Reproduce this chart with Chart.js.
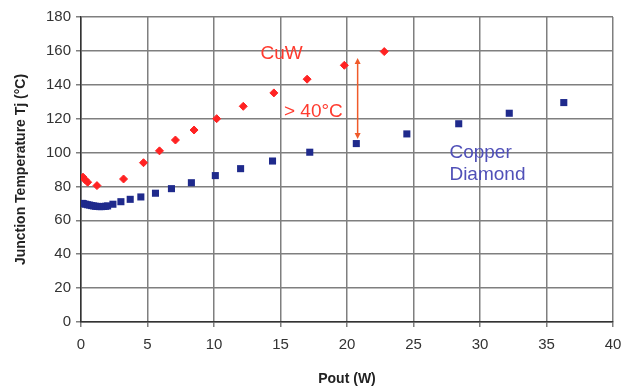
<!DOCTYPE html>
<html lang="en">
<head>
  <meta charset="UTF-8">
  <title>Junction Temperature vs Pout</title>
  <script src="https://cdn.jsdelivr.net/npm/chart.js"></script>
  <style>
    body { margin: 0; background: #fff; }
  </style>
</head>
<body>
  <canvas id="tjChart" width="628" height="390"></canvas>

  <script>
    // CuW (red diamonds): Pout (W) / Tj (°C)
    const cuwPout = [0.15, 0.3, 0.5, 1.2, 3.2, 4.7, 5.9, 7.1, 8.5, 10.2, 12.2, 14.5, 17.0, 19.8, 22.8];
    const cuwTj = [85.5, 84, 82.5, 80.5, 84.4, 94, 101, 107.4, 113.3, 120, 127.3, 135.2, 143.3, 151.5, 159.6];

    // Copper Diamond (blue squares)
    const cdPout = [0.1, 0.2, 0.35, 0.5, 0.65, 0.8, 0.95, 1.1, 1.25, 1.4, 1.55, 1.7, 1.85, 2.0, 2.4, 3.0, 3.7, 4.5, 5.6, 6.8, 8.3, 10.1, 12.0, 14.4, 17.2, 20.7, 24.5, 28.4, 32.2, 36.3];
    const cdTj = [70, 69.8, 69.5, 69.2, 69, 68.7, 68.5, 68.3, 68.2, 68.1, 68.1, 68.2, 68.3, 68.5, 69.5, 71, 72.4, 73.8, 76, 78.7, 82.2, 86.4, 90.5, 95, 100.2, 105.3, 111, 117, 123.2, 129.5];

    const xTicks = [0, 5, 10, 15, 20, 25, 30, 35, 40];
    const yTicks = [0, 20, 40, 60, 80, 100, 120, 140, 160, 180];

    const toPoints = (xs, ys) => xs.map((x, i) => ({ x: x, y: ys[i] }));

    // text labels and the "> 40°C" arrow, placed in data units
    const notes = {
      id: 'notes',
      afterDatasetsDraw(chart) {
        const ctx = chart.ctx;
        const xs = chart.scales.x, ys = chart.scales.y;
        const px = v => xs.getPixelForValue(v);
        const py = v => ys.getPixelForValue(v);
        ctx.save();
        ctx.textBaseline = 'alphabetic';
        ctx.textAlign = 'left';
        ctx.font = '19px "Liberation Sans", Arial, sans-serif';
        ctx.fillStyle = '#ff3b2f';
        ctx.fillText('CuW', px(13.5), py(155.3));
        ctx.fillText('> 40°C', px(15.26), py(121));
        ctx.fillStyle = '#5050b8';
        ctx.fillText('Copper', px(27.7), py(96.8));
        ctx.fillText('Diamond', px(27.7), py(83.8));

        // double-headed arrow
        const ax = px(20.8), top = py(155.8), bot = py(108);
        ctx.strokeStyle = '#f05a2a';
        ctx.fillStyle = '#f05a2a';
        ctx.lineWidth = 1.5;
        ctx.beginPath();
        ctx.moveTo(ax, top + 4);
        ctx.lineTo(ax, bot - 4);
        ctx.stroke();
        ctx.beginPath();
        ctx.moveTo(ax, top);
        ctx.lineTo(ax - 3, top + 6);
        ctx.lineTo(ax + 3, top + 6);
        ctx.closePath();
        ctx.fill();
        ctx.beginPath();
        ctx.moveTo(ax, bot);
        ctx.lineTo(ax - 3, bot - 6);
        ctx.lineTo(ax + 3, bot - 6);
        ctx.closePath();
        ctx.fill();
        ctx.restore();
      }
    };

    const ctx = document.getElementById('tjChart').getContext('2d');
    new Chart(ctx, {
      type: 'scatter',
      data: {
        datasets: [
          {
            label: 'CuW',
            data: toPoints(cuwPout, cuwTj),
            pointStyle: 'rectRot',
            pointRadius: 4,
            backgroundColor: '#ff2222',
            borderColor: '#ff2222',
            borderWidth: 1
          },
          {
            label: 'Copper Diamond',
            data: toPoints(cdPout, cdTj),
            pointStyle: 'rect',
            pointRadius: 5,
            backgroundColor: '#1f2a8c',
            borderColor: '#1f2a8c',
            borderWidth: 0
          }
        ]
      },
      options: {
        responsive: false,
        animation: false,
        layout: { padding: 0 },
        plugins: {
          legend: { display: false },
          tooltip: { enabled: false }
        },
        scales: {
          x: {
            type: 'linear',
            min: 0,
            max: 40,
            afterBuildTicks: axis => { axis.ticks = xTicks.map(v => ({ value: v })); },
            afterFit: axis => {
              axis.height = 68;
              axis.paddingLeft = 0;
              axis.paddingRight = 15;
            },
            grid: { color: '#7f7f7f', lineWidth: 1.5, tickLength: 5 },
            border: { color: '#333', width: 1.5 },
            ticks: {
              color: '#333',
              padding: 9,
              font: { family: '"Liberation Sans", Arial, sans-serif', size: 15 }
            },
            title: {
              display: true,
              text: 'Pout (W)',
              color: '#222',
              padding: { top: 4, bottom: 2 },
              font: { family: '"Liberation Sans", Arial, sans-serif', size: 14, weight: 'bold' }
            }
          },
          y: {
            min: 0,
            max: 180,
            afterBuildTicks: axis => { axis.ticks = yTicks.map(v => ({ value: v })); },
            afterFit: axis => {
              axis.width = 81;
              axis.paddingTop = 17;
              axis.paddingBottom = 0;
            },
            grid: { color: '#7f7f7f', lineWidth: 1.5, tickLength: 5 },
            border: { color: '#333', width: 1.5 },
            ticks: {
              color: '#333',
              padding: 5,
              font: { family: '"Liberation Sans", Arial, sans-serif', size: 15 }
            },
            title: {
              display: true,
              text: 'Junction Temperature Tj (°C)',
              color: '#222',
              padding: { top: 13, bottom: 4 },
              font: { family: '"Liberation Sans", Arial, sans-serif', size: 14, weight: 'bold' }
            }
          }
        }
      },
      plugins: [notes]
    });
  </script>
</body>
</html>
